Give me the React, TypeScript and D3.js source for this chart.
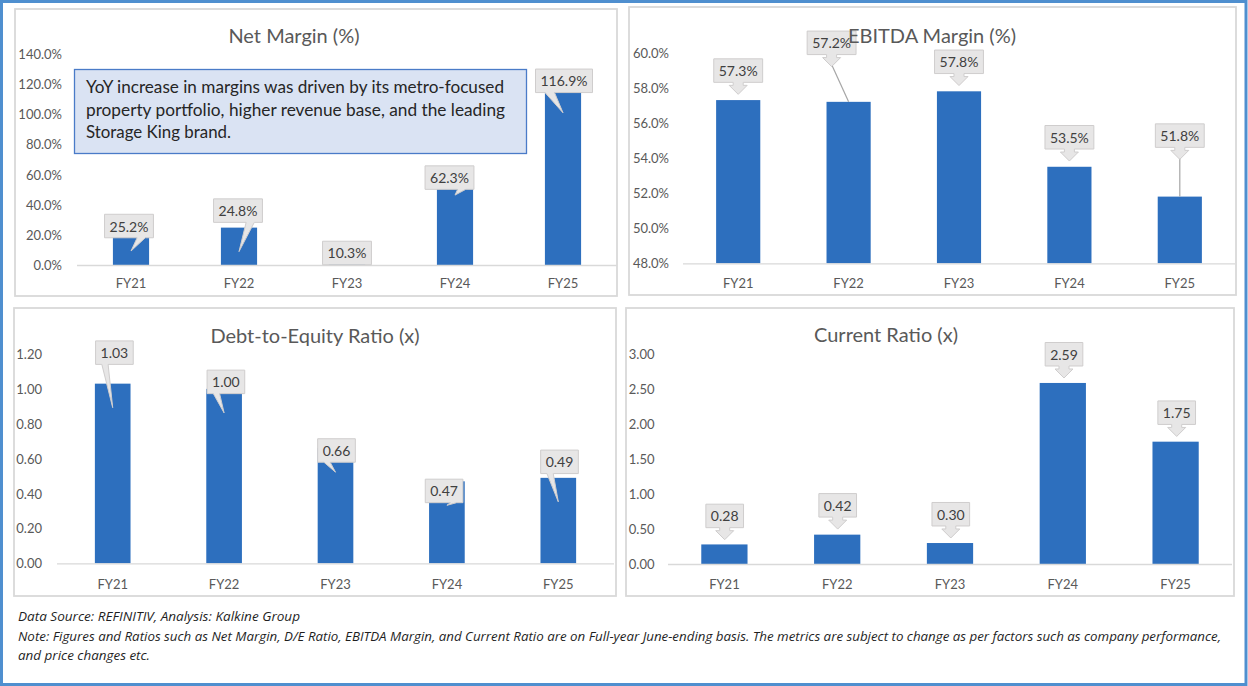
import { useEffect, useRef } from 'react'
import * as d3 from 'd3'

const years = ['FY21', 'FY22', 'FY23', 'FY24', 'FY25']
const netMargin = [25.2, 24.8, 10.3, 62.3, 116.9]
const ebitdaMargin = [57.3, 57.2, 57.8, 53.5, 51.8]
const debtToEquity = [1.03, 1.0, 0.66, 0.47, 0.49]
const currentRatio = [0.28, 0.42, 0.3, 2.59, 1.75]

const netMarginTicks = [0, 20, 40, 60, 80, 100, 120, 140]
const ebitdaTicks = [48, 50, 52, 54, 56, 58, 60]
const debtTicks = [0, 0.2, 0.4, 0.6, 0.8, 1.0, 1.2]
const currentTicks = [0, 0.5, 1, 1.5, 2, 2.5, 3]

const annotationLines = [
  'YoY increase in margins was driven by its metro-focused',
  'property portfolio, higher revenue base, and the leading',
  'Storage King brand.',
]

const footerLines = [
  'Data Source: REFINITIV, Analysis: Kalkine Group',
  'Note: Figures and Ratios such as Net Margin, D/E Ratio, EBITDA Margin, and Current Ratio are on Full-year June-ending basis. The metrics are subject to change as per factors such as company performance,',
  'and price changes etc.',
]

// where each data callout box sits, relative to the top of its bar (px)
const netMarginCallouts = [[-2, -1], [-1, -17], [0, 3.5], [-5.5, 6.5], [1, -8]]
const ebitdaCallouts = [[0, -29.5], [-17, -59], [0, -29.5], [0, -29.5], [0, -61]]
const debtCallouts = [[1.7, -31], [1.8, -7], [1, 2.3], [-2.8, 9.6], [1.2, -16]]
const currentCallouts = [[0.3, -28.5], [0.5, -29.3], [0.8, -28.8], [1.2, -28.7], [1.1, -29]]

const FONT = "Lato, 'Open Sans', sans-serif"
const BAR = '#2D6FBE'
const GREY_TEXT = '#595959'

type Panel = {
  title: string
  values: number[]
  ticks: number[]
  fmt: (d: number) => string
  labelFmt: (d: number) => string
  box: number[] // x, y, w, h
  plot: number[] // x0, x1, yBottom, yTop
  tickX: number
  titleXY: number[]
  labelY: number
  barRatio: number
  kind: 'wedge' | 'arrow'
  callouts: number[][]
}

const pct = (d: number) => d.toFixed(1) + '%'
const dec = (d: number) => d.toFixed(2)

const panels: Panel[] = [
  {
    title: 'Net Margin (%)', values: netMargin, ticks: netMarginTicks, fmt: pct, labelFmt: pct,
    box: [15, 9, 602, 287], plot: [77, 617, 265, 54], tickX: 62, titleXY: [294, 35], labelY: 283,
    barRatio: 0.335, kind: 'wedge', callouts: netMarginCallouts,
  },
  {
    title: 'EBITDA Margin (%)', values: ebitdaMargin, ticks: ebitdaTicks, fmt: pct, labelFmt: pct,
    box: [629, 7, 607, 288], plot: [683, 1235, 263.3, 52.7], tickX: 669, titleXY: [932, 35], labelY: 283,
    barRatio: 0.4, kind: 'arrow', callouts: ebitdaCallouts,
  },
  {
    title: 'Debt-to-Equity Ratio (x)', values: debtToEquity, ticks: debtTicks, fmt: dec, labelFmt: dec,
    box: [14, 308, 602, 288], plot: [57, 614, 563.3, 354], tickX: 42, titleXY: [315, 335], labelY: 583.5,
    barRatio: 0.32, kind: 'wedge', callouts: debtCallouts,
  },
  {
    title: 'Current Ratio (x)', values: currentRatio, ticks: currentTicks, fmt: dec, labelFmt: dec,
    box: [626, 308, 608, 288], plot: [668, 1232, 564, 354.3], tickX: 654.5, titleXY: [886, 333.5], labelY: 583.5,
    barRatio: 0.41, kind: 'arrow', callouts: currentCallouts,
  },
]

function drawPanel(svg: d3.Selection<SVGSVGElement, unknown, null, undefined>, p: Panel, idx: number) {
  const g = svg.append('g').attr('class', 'panel-' + idx)

  g.append('rect')
    .attr('x', p.box[0]).attr('y', p.box[1])
    .attr('width', p.box[2]).attr('height', p.box[3])
    .attr('fill', '#fff').attr('stroke', '#D9D9D9').attr('stroke-width', 1.8)

  const pad = 1 - p.barRatio
  const x = d3.scaleBand().domain(years).range([p.plot[0], p.plot[1]]).paddingInner(pad).paddingOuter(pad / 2)
  const y = d3.scaleLinear()
    .domain([p.ticks[0], p.ticks[p.ticks.length - 1]])
    .range([p.plot[2], p.plot[3]])
  const y0 = y(p.ticks[0])

  // y tick labels (no gridlines in the original)
  g.selectAll('text.ytick').data(p.ticks).join('text')
    .attr('class', 'ytick')
    .attr('x', p.tickX).attr('y', (d) => y(d))
    .attr('text-anchor', 'end').attr('dominant-baseline', 'central')
    .style('font-family', FONT).style('font-size', '13px').attr('fill', GREY_TEXT)
    .text((d) => p.fmt(d))

  // bars
  g.selectAll('rect.bar').data(p.values).join('rect')
    .attr('class', 'bar')
    .attr('x', (d, i) => x(years[i]) as number)
    .attr('y', (d) => y(d))
    .attr('width', x.bandwidth())
    .attr('height', (d) => y0 - y(d))
    .attr('fill', BAR)

  // category axis
  g.append('line')
    .attr('x1', p.plot[0]).attr('x2', p.plot[1])
    .attr('y1', y0 + 0.5).attr('y2', y0 + 0.5)
    .attr('stroke', '#D9D9D9').attr('stroke-width', 1.3)

  g.selectAll('text.xlab').data(years).join('text')
    .attr('class', 'xlab')
    .attr('x', (d) => (x(d) as number) + x.bandwidth() / 2).attr('y', p.labelY)
    .attr('text-anchor', 'middle').attr('dominant-baseline', 'central')
    .style('font-family', FONT).style('font-size', '13px').attr('fill', GREY_TEXT)
    .text((d) => d)

  // data callouts
  p.values.forEach((v, i) => {
    const ax = (x(years[i]) as number) + x.bandwidth() / 2
    const ay = y(v)
    const cx = ax + p.callouts[i][0]
    const cy = ay + p.callouts[i][1]
    const cg = g.append('g')
    const leader = cg.append('line')
    const shape = cg.append('path').attr('fill', '#E7E6E6').attr('stroke', '#CFCDCD').attr('stroke-width', 1)
    const label = cg.append('text')
      .attr('x', cx).attr('y', cy)
      .attr('text-anchor', 'middle').attr('dominant-baseline', 'central')
      .style('font-family', FONT).style('font-size', '14px').attr('fill', '#404040')
      .text(p.labelFmt(v))
    const w = (label.node() as SVGTextElement).getComputedTextLength() + 10
    const h = 23.5
    const l = cx - w / 2, r = cx + w / 2, t = cy - h / 2, b = cy + h / 2

    if (p.kind === 'wedge') {
      const tx = ax, ty = ay + 24
      if (ty <= b || ty > y0) {
        shape.attr('d', `M${l},${t}H${r}V${b}H${l}Z`)
      } else {
        const b1 = tx < cx ? l + w / 6 : l + (2 * w) / 3
        const b2 = tx < cx ? l + w / 3 : l + (5 * w) / 6
        shape.attr('d', `M${l},${t}H${r}V${b}H${b2}L${tx},${ty}L${b1},${b}H${l}Z`)
      }
    } else {
      const tipY = b + 12
      shape.attr('d',
        `M${l},${t}H${r}V${b}H${cx + 5}V${b + 3}H${cx + 9}L${cx},${tipY}L${cx - 9},${b + 3}H${cx - 5}V${b}H${l}Z`)
      if (Math.hypot(ax - cx, ay - tipY) > 8) {
        leader.attr('x1', cx).attr('y1', tipY - 2).attr('x2', ax).attr('y2', ay)
          .attr('stroke', '#A6A6A6').attr('stroke-width', 1.2)
      }
    }
  })

  // title sits on top of everything in the panel
  g.append('text')
    .attr('x', p.titleXY[0]).attr('y', p.titleXY[1])
    .attr('text-anchor', 'middle').attr('dominant-baseline', 'central')
    .style('font-family', FONT).style('font-size', '20px').attr('fill', GREY_TEXT)
    .text(p.title)
}

export default function App() {
  const rootRef = useRef<SVGSVGElement>(null)

  useEffect(() => {
    const svg = d3.select(rootRef.current as SVGSVGElement)
    svg.selectAll('*').remove()

    svg.append('rect').attr('width', 1248).attr('height', 686).attr('fill', '#fff')

    panels.forEach((p, i) => drawPanel(svg, p, i))

    // commentary box on the net margin chart
    const note = svg.append('g')
    note.append('rect')
      .attr('x', 74.5).attr('y', 69.5).attr('width', 452).attr('height', 84)
      .attr('fill', '#DAE3F3').attr('stroke', '#4A7BC8').attr('stroke-width', 1.3)
    const noteLens = [418, 419, 145]
    note.selectAll('text').data(annotationLines).join('text')
      .attr('x', 86).attr('y', (d, i) => 93 + i * 22.5)
      .attr('textLength', (d, i) => noteLens[i]).attr('lengthAdjust', 'spacingAndGlyphs')
      .style('font-family', FONT).style('font-size', '16.5px').attr('fill', '#262626')
      .text((d) => d)

    // footer
    const footLens = [282, 1203, 132]
    svg.append('g').selectAll('text').data(footerLines).join('text')
      .attr('x', 18).attr('y', (d, i) => 621 + i * 19.5)
      .attr('textLength', (d, i) => footLens[i]).attr('lengthAdjust', 'spacingAndGlyphs')
      .style('font-family', "'Open Sans', sans-serif").style('font-size', '12.5px')
      .style('font-style', 'italic').attr('fill', '#1F1F1F')
      .text((d) => d)

    // outer frame
    svg.append('rect')
      .attr('x', 1.5).attr('y', 1.5).attr('width', 1244.5).attr('height', 683)
      .attr('fill', 'none').attr('stroke', '#4F8FCF').attr('stroke-width', 3)
  }, [])

  return (
    <svg
      ref={rootRef}
      width={1248}
      height={686}
      style={{ position: 'absolute', left: 0, top: 0 }}
    />
  )
}
